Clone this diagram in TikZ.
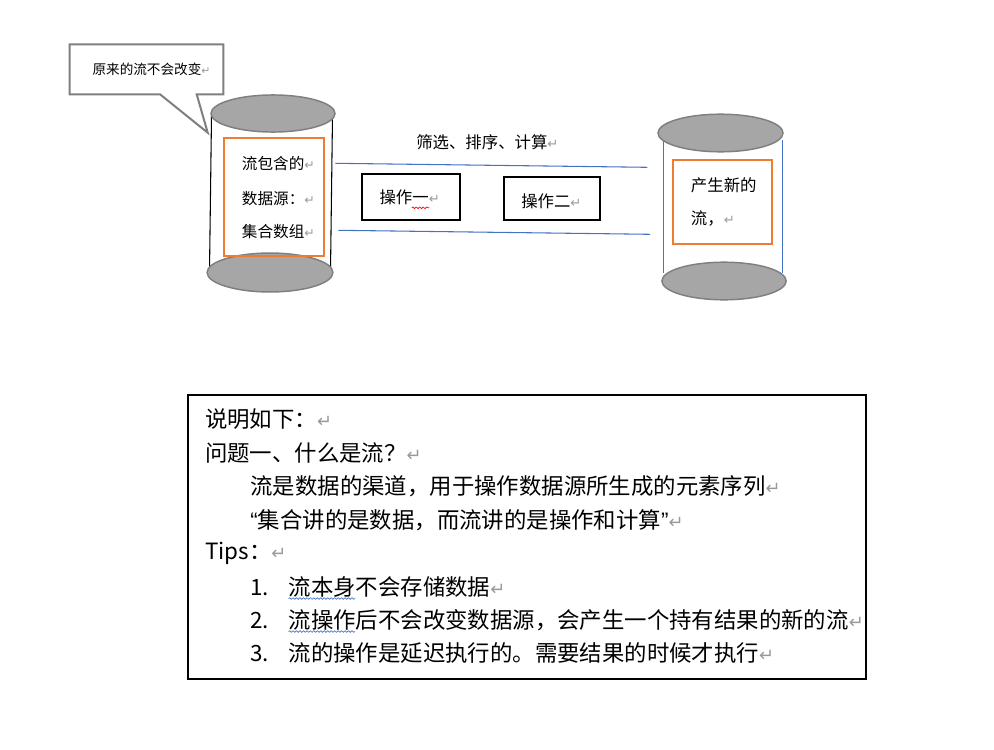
\documentclass[tikz,border=0pt]{standalone}
\usepackage{fontspec}
\setmainfont{Liberation Sans}
\newfontfamily\cjk{Noto Sans CJK SC}
\newfontfamily\dvs{DejaVu Sans}
\newfontfamily\libsans{Liberation Sans}
\usetikzlibrary{decorations.pathmorphing}
\definecolor{cgray}{HTML}{A6A6A6}
\definecolor{cedge}{HTML}{7F7F7F}
\definecolor{corange}{HTML}{ED7D31}
\definecolor{cblue}{HTML}{4472C4}
\newcommand\retmark{{\dvs\color{black!40}\fontsize{0.8em}{0.8em}\selectfont ↵}}
\newcommand\myopenq{{\libsans “}}
\newcommand\myclosq{{\libsans ”}}
\begin{document}
\begin{tikzpicture}[x=0.75pt,y=-0.75pt,
  small/.style={inner sep=0pt,anchor=west,font=\cjk\fontsize{10.2pt}{12pt}\selectfont},
  mid/.style={inner sep=0pt,anchor=west,font=\cjk\fontsize{11.7pt}{14pt}\selectfont},
  big/.style={inner sep=0pt,anchor=west,font=\cjk\fontsize{12.3pt}{14pt}\selectfont},
  body/.style={inner sep=0pt,anchor=west,font=\cjk\fontsize{16.8pt}{20pt}\selectfont},
  lid/.style={fill=cgray,draw=cedge,line width=1.1pt},
  opbox/.style={draw=black,line width=1.5pt},
  orangebox/.style={draw=corange,line width=1.5pt},
  flow/.style={draw=cblue,line width=0.8pt},
  wavyred/.style={draw=red,line width=0.5pt,decorate,decoration={snake,amplitude=0.6pt,segment length=2.6pt}},
  wavyblue/.style={draw=cblue,line width=0.5pt,decorate,decoration={snake,amplitude=0.6pt,segment length=2.6pt}}]
\useasboundingbox (0,0) rectangle (994,749);

% callout
\draw[draw=cedge,line width=1.5pt,fill=white,line join=miter]
  (69.5,44.3) -- (223.3,44.3) -- (223.3,94.3) -- (196.7,94.3) -- (207.7,132.7) -- (160,94.3) -- (69.5,94.3) -- cycle;
\node[small] (callt) at (92.3,69.5) {原来的流不会改变\retmark};

% left cylinder
\draw[black,line width=0.8pt] (211.5,116) -- (209.5,271);
\draw[black,line width=0.8pt] (332.5,116) -- (330.5,271);
\draw[lid] (273,113.5) ellipse [x radius=46.5pt, y radius=13.9pt];
\draw[lid] (270,272.5) ellipse [x radius=47.2pt, y radius=14.6pt];
\draw[orangebox] (224.3,137.7) rectangle (324,255.7);
\node[mid] (l1) at (241.7,163.5) {流包含的\retmark};
\node[mid] (l2) at (241.7,198.5) {数据源：\retmark};
\node[mid] (l3) at (241.7,231.5) {集合数组\retmark};

% flow lines
\coordinate (a1) at (335.3,163.3);
\coordinate (a2) at (647.3,167.3);
\coordinate (b1) at (338.3,230.3);
\coordinate (b2) at (650,234.3);
\draw[flow] (a1) -- (a2);
\draw[flow] (b1) -- (b2);
\node[big] (ops) at (416,142.5) {筛选、排序、计算\retmark};

\draw[opbox] (361.7,174) rectangle (460,220);
\node[big] (op1) at (379.3,197.7) {操作一\retmark};
\draw[wavyred] (411.7,207.8) -- (429.3,207.8);
\draw[opbox] (503.7,176.7) rectangle (600,220);
\node[big] (op2) at (521,201.7) {操作二\retmark};

% right cylinder
\draw[cblue,line width=0.8pt] (663.3,140) -- (663.3,273);
\draw[cblue,line width=0.8pt] (782.3,140) -- (782.3,273);
\draw[lid] (720.5,133) ellipse [x radius=46.9pt, y radius=14.1pt];
\draw[lid] (724,281) ellipse [x radius=46.6pt, y radius=14.1pt];
\draw[orangebox] (672.7,160) rectangle (772,244);
\node[big] (r1) at (690.7,185.7) {产生新的};
\node[big] (r2) at (690.7,218.7) {流，\retmark};

% explanation box
\draw[line width=1.5pt] (188,395) rectangle (866,679);
\node[body] (t1) at (204.8,419.3) {说明如下：\retmark};
\node[body] (t2) at (204.8,453) {问题一、什么是流？\retmark};
\node[body] (t3) at (250.2,486.7) {流是数据的渠道，用于操作数据源所生成的元素序列\retmark};
\node[body] (t4) at (250.2,520) {\myopenq 集合讲的是数据，而流讲的是操作和计算\myclosq\retmark};
\node[body] (t5) at (204.8,553.3) {Tips：\retmark};
\node[body] (n1) at (250.2,587.5) {1.};
\node[body] (i1) at (288.5,587.5) {流本身不会存储数据\retmark};
\node[body] (n2) at (250.2,620.5) {2.};
\node[body] (i2) at (288.5,620.5) {流操作后不会改变数据源，会产生一个持有结果的新的流\retmark};
\node[body] (n3) at (250.2,653.5) {3.};
\node[body] (i3) at (288.5,653.5) {流的操作是延迟执行的。需要结果的时候才执行\retmark};
\draw[wavyblue] (288.5,598.5) -- (355,598.5);
\draw[wavyblue] (288.5,631.5) -- (355,631.5);
\end{tikzpicture}
\end{document}
